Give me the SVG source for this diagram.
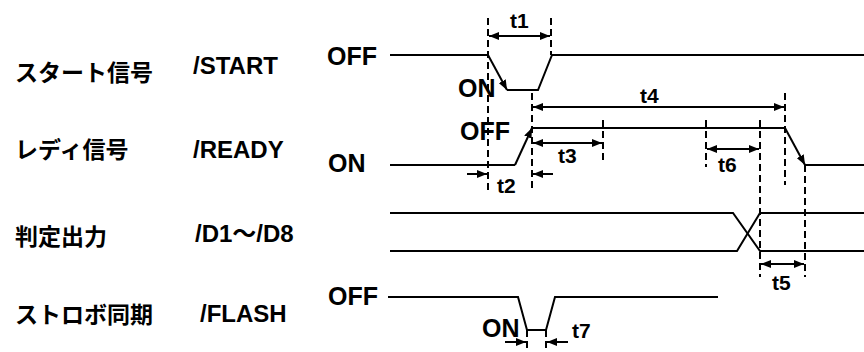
<svg xmlns="http://www.w3.org/2000/svg" width="864" height="352" viewBox="0 0 864 352">
<style>
.lbl{font-family:"Liberation Sans","Noto Sans CJK JP",sans-serif;font-weight:bold;font-size:24px;fill:#000}
.jp{font-family:"Noto Sans CJK JP",sans-serif;font-weight:bold;font-size:23px;fill:#000}
.lv{font-family:"Liberation Sans",sans-serif;font-weight:bold;font-size:25px;fill:#000}
.t{font-family:"Liberation Sans",sans-serif;font-weight:bold;font-size:21px;fill:#000}
.sig{fill:none;stroke:#000;stroke-width:2}
.dash{fill:none;stroke:#000;stroke-width:2;stroke-dasharray:7 4}
.dim{fill:none;stroke:#000;stroke-width:2;marker-start:url(#ah);marker-end:url(#ah)}
.one{fill:none;stroke:#000;stroke-width:2;marker-end:url(#ah)}
</style>
<defs>
<marker id="ah" markerUnits="userSpaceOnUse" markerWidth="10" markerHeight="8" refX="10" refY="4" orient="auto-start-reverse">
<path d="M0,0 L10,4 L0,8 z" fill="#000"/>
</marker>
</defs>
<rect width="864" height="352" fill="#fff"/>
<g id="labels">
<text class="jp" x="15" y="81">スタート信号</text>
<text class="lbl" x="193" y="74">/START</text>
<text class="jp" x="15" y="158">レディ信号</text>
<text class="lbl" x="193" y="158">/READY</text>
<text class="jp" x="15" y="245">判定出力</text>
<text class="lbl" x="195" y="242">/D1～/D8</text>
<text class="jp" x="15" y="323">ストロボ同期</text>
<text class="lbl" x="200" y="322">/FLASH</text>
</g>
<g id="start">
<text class="lv" x="327" y="65">OFF</text>
<text class="lv" x="458" y="97">ON</text>
<polyline class="sig" points="390,55 488,55"/>
<line class="one" x1="488" y1="55" x2="507" y2="90"/>
<polyline class="sig" points="507,90 538,90 552,55 864,55"/>
</g>
<g id="ready">
<text class="lv" x="460" y="140">OFF</text>
<text class="lv" x="328" y="172">ON</text>
<polyline class="sig" points="390,165 515,165"/>
<line class="one" x1="515" y1="165" x2="532" y2="128"/>
<polyline class="sig" points="532,128 785,128"/>
<line class="one" x1="785" y1="128" x2="805" y2="165"/>
<polyline class="sig" points="805,165 864,165"/>
</g>
<g id="data">
<polyline class="sig" points="390,213 733,213 760,251 864,251"/>
<polyline class="sig" points="390,251 737,251 760,213 864,213"/>
</g>
<g id="flash">
<text class="lv" x="328" y="305">OFF</text>
<text class="lv" x="482" y="337">ON</text>
<polyline class="sig" points="388,297 518,297 527,330 546,330 555,297 718,297"/>
</g>
<g id="timing">
<line class="dash" x1="488" y1="18" x2="488" y2="190"/>
<line class="dash" x1="551" y1="18" x2="551" y2="55"/>
<line class="dash" x1="532" y1="93" x2="532" y2="188"/>
<line class="dash" x1="785" y1="93" x2="785" y2="185"/>
<line class="dash" x1="603" y1="120" x2="603" y2="160"/>
<line class="dash" x1="706" y1="120" x2="706" y2="167"/>
<line class="dash" x1="760" y1="120" x2="760" y2="277"/>
<line class="dash" x1="805" y1="165" x2="805" y2="277"/>
<line class="dash" x1="527" y1="330" x2="527" y2="352"/>
<line class="dash" x1="546" y1="330" x2="546" y2="352"/>
<line class="dim" x1="489" y1="36" x2="550" y2="36"/>
<line class="dim" x1="533" y1="107" x2="784" y2="107"/>
<line class="dim" x1="533" y1="143" x2="602" y2="143"/>
<line class="dim" x1="707" y1="149" x2="759" y2="149"/>
<line class="dim" x1="761" y1="264" x2="804" y2="264"/>
<line class="one" x1="467" y1="174" x2="487" y2="174"/>
<line class="one" x1="553" y1="174" x2="533" y2="174"/>
<line class="one" x1="505" y1="342" x2="526" y2="342"/>
<line class="one" x1="568" y1="342" x2="547" y2="342"/>
<text class="t" x="510" y="28">t1</text>
<text class="t" x="640" y="103">t4</text>
<text class="t" x="558" y="163">t3</text>
<text class="t" x="497" y="193">t2</text>
<text class="t" x="718" y="172">t6</text>
<text class="t" x="772" y="290">t5</text>
<text class="t" x="572" y="338">t7</text>
</g>
</svg>
